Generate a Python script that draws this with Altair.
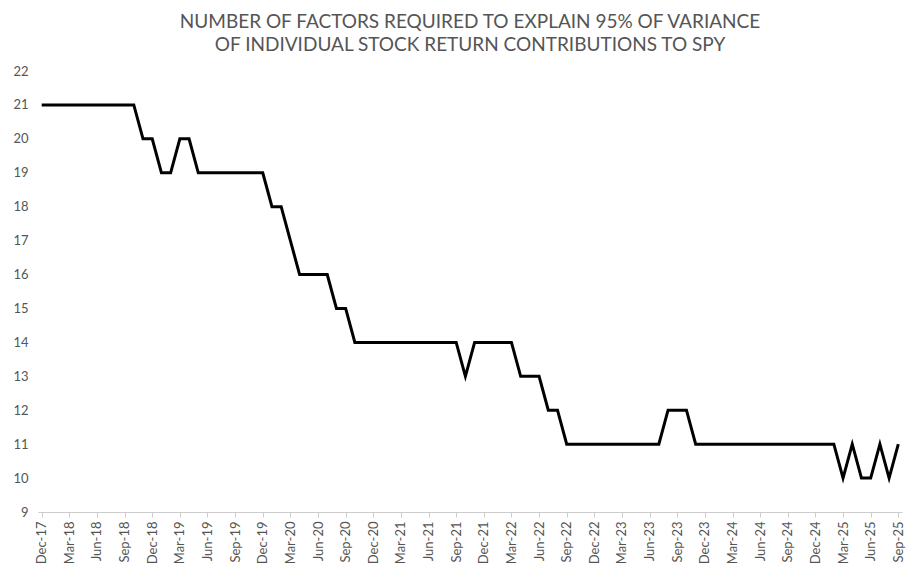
import altair as alt
import pandas as pd

months = []
mnames = ["Jan", "Feb", "Mar", "Apr", "May", "Jun", "Jul", "Aug", "Sep", "Oct", "Nov", "Dec"]
y, m = 2017, 11
for _ in range(94):
    months.append(f"{mnames[m]}-{str(y)[2:]}")
    m += 1
    if m == 12:
        m = 0
        y += 1

factors = (
    [21] * 11 + [20] * 2 + [19] * 2 + [20] * 2 + [19] * 8 + [18] * 2 + [17] + [16] * 4
    + [15] * 2 + [14] * 12 + [13] + [14] * 5 + [13] * 3 + [12] * 2 + [11] * 11
    + [12] * 3 + [11] * 16 + [10] + [11] + [10] * 2 + [11] + [10] + [11]
)

tick_labels = months[::3]
y_ticks = list(range(9, 23))

df = pd.DataFrame({"month": months, "factors": factors})

chart = (
    alt.Chart(df)
    .mark_line(color="black", strokeWidth=3)
    .encode(
        x=alt.X(
            "month:O",
            sort=None,
            scale=alt.Scale(type="point", padding=0.4),
            axis=alt.Axis(
                values=tick_labels,
                title=None,
                labelAngle=-90,
                labelAlign="right",
                labelBaseline="middle",
                labelFontSize=13,
                labelColor="#555555",
                labelFont="Lato",
                labelPadding=4,
                domainColor="#cccccc",
                tickColor="#cccccc",
                tickSize=5,
                grid=False,
            ),
        ),
        y=alt.Y(
            "factors:Q",
            scale=alt.Scale(domain=[9, 22], nice=False, zero=False),
            axis=alt.Axis(
                values=y_ticks,
                title=None,
                domain=False,
                ticks=False,
                grid=False,
                labelFontSize=13,
                labelColor="#555555",
                labelFont="Lato",
                labelPadding=10,
            ),
        ),
    )
    .properties(
        width=864,
        height=441,
        autosize=alt.AutoSizeParams(type="none"),
        padding={"left": 30, "top": 63, "right": 5, "bottom": 57},
        title=alt.TitleParams(
            text=[
                "NUMBER OF FACTORS REQUIRED TO EXPLAIN 95% OF VARIANCE",
                "OF INDIVIDUAL STOCK RETURN CONTRIBUTIONS TO SPY",
            ],
            anchor="middle",
            fontSize=19,
            font="Lato",
            fontWeight="normal",
            color="#555555",
            lineHeight=23,
            offset=10,
        ),
    )
    .configure_view(stroke=None)
)

chart.save("out.html", embed_options={"renderer": "svg", "actions": False})
